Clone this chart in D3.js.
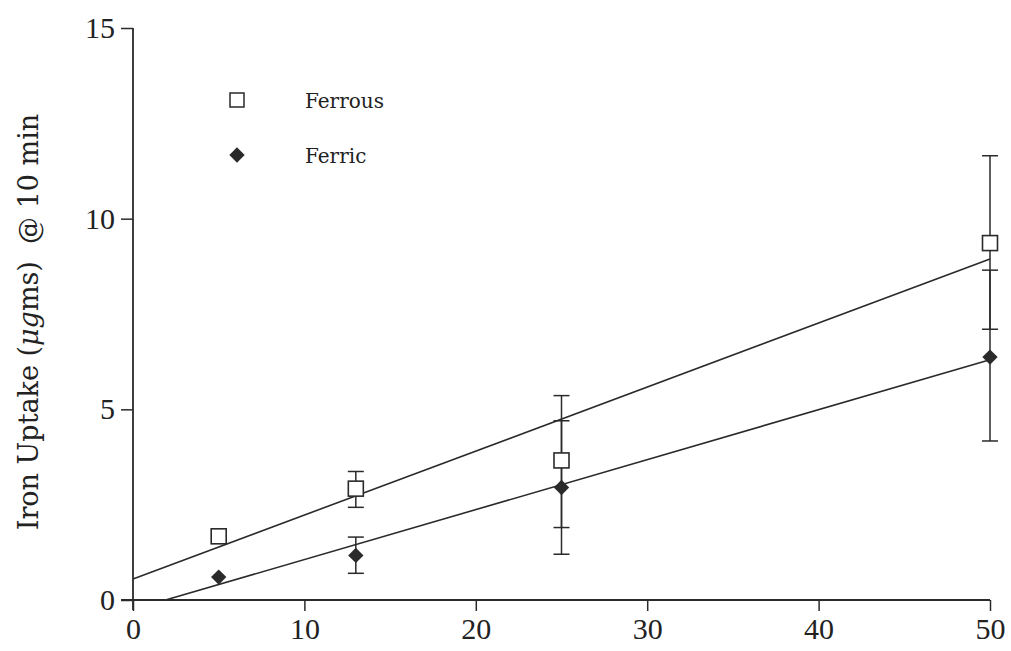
<!DOCTYPE html>
<html>
<head>
<meta charset="utf-8">
<script src="https://cdn.jsdelivr.net/npm/d3@7"></script>
<style>
  body { margin: 0; background: #fff; }
  svg text { font-family: "Liberation Serif", "DejaVu Serif", serif; fill: #222; }
</style>
</head>
<body>
<div id="chart"></div>
<script>
// Data (concentration vs. uptake)
const ferrousX = [5, 13, 25, 50];
const ferrousY = [1.67, 2.92, 3.66, 9.36];
const ferrousErr = [null, [2.43, 3.37], [1.9, 5.36], [7.1, 11.65]];

const ferricX = [5, 13, 25, 50];
const ferricY = [0.6, 1.17, 2.95, 6.37];
const ferricErr = [null, [0.7, 1.65], [1.2, 4.7], [4.17, 8.65]];

// fitted lines, end points
const ferrousFitX = [0, 50];
const ferrousFitY = [0.55, 8.94];
const ferricFitX = [1.9, 50];
const ferricFitY = [0, 6.3];

const xTicks = [0, 10, 20, 30, 40, 50];
const yTicks = [0, 5, 10, 15];

const W = 1011, H = 651;
const ink = "#2a2a2a";

const x = d3.scaleLinear().domain([0, 50]).range([133, 990]);
const y = d3.scaleLinear().domain([0, 15]).range([600, 28]);

const svg = d3.select("#chart").append("svg")
    .attr("width", W)
    .attr("height", H);

svg.append("rect").attr("width", W).attr("height", H).attr("fill", "#fff");

// x axis
const gx = svg.append("g")
    .attr("transform", `translate(0,${y(0)})`)
    .call(d3.axisBottom(x).tickValues(xTicks).tickSize(11).tickSizeOuter(0).tickPadding(7));
gx.select(".domain").remove();
gx.selectAll("line").attr("stroke", ink).attr("stroke-width", 1.5);
gx.selectAll("text").attr("font-size", 30).style("font-family", "Liberation Serif");

// y axis
const gy = svg.append("g")
    .attr("transform", `translate(${x(0)},0)`)
    .call(d3.axisLeft(y).tickValues(yTicks).tickSize(12).tickSizeOuter(0).tickPadding(6));
gy.select(".domain").remove();
gy.selectAll("line").attr("stroke", ink).attr("stroke-width", 1.5);
gy.selectAll("text").attr("font-size", 30).style("font-family", "Liberation Serif");

// axis lines
svg.append("line")
    .attr("x1", x(0) - 12).attr("x2", x(50))
    .attr("y1", y(0)).attr("y2", y(0))
    .attr("stroke", ink).attr("stroke-width", 1.8);
svg.append("line")
    .attr("x1", x(0)).attr("x2", x(0))
    .attr("y1", y(15)).attr("y2", y(0) + 10)
    .attr("stroke", ink).attr("stroke-width", 1.8);

// y label
svg.append("text")
    .attr("transform", `translate(38,322) rotate(-90)`)
    .attr("text-anchor", "middle")
    .attr("font-size", 27)
    .style("font-family", "DejaVu Serif")
    .attr("xml:space", "preserve")
    .call(t => {
        t.append("tspan").text("Iron Uptake (");
        t.append("tspan").attr("font-style", "italic").text("μg");
        t.append("tspan").text("ms)  @ 10 min");
    });

// fit lines
const line = d3.line().x(d => x(d[0])).y(d => y(d[1]));
svg.append("path")
    .datum(d3.zip(ferrousFitX, ferrousFitY))
    .attr("d", line).attr("fill", "none").attr("stroke", ink).attr("stroke-width", 1.6);
svg.append("path")
    .datum(d3.zip(ferricFitX, ferricFitY))
    .attr("d", line).attr("fill", "none").attr("stroke", ink).attr("stroke-width", 1.6);

// error bars
function errorBars(xs, errs) {
    const g = svg.append("g").attr("stroke", ink).attr("stroke-width", 1.5);
    xs.forEach((xv, i) => {
        const e = errs[i];
        if (!e) return;
        const cx = x(xv);
        g.append("line").attr("x1", cx).attr("x2", cx).attr("y1", y(e[0])).attr("y2", y(e[1]));
        e.forEach(v => {
            g.append("line").attr("x1", cx - 8).attr("x2", cx + 8).attr("y1", y(v)).attr("y2", y(v));
        });
    });
}
errorBars(ferrousX, ferrousErr);
errorBars(ferricX, ferricErr);

// markers
const sq = 15;
svg.append("g").selectAll("rect")
    .data(d3.zip(ferrousX, ferrousY))
    .join("rect")
    .attr("x", d => x(d[0]) - sq / 2)
    .attr("y", d => y(d[1]) - sq / 2)
    .attr("width", sq).attr("height", sq)
    .attr("fill", "#fff").attr("stroke", ink).attr("stroke-width", 1.6);

const diamond = d3.symbol().type(d3.symbolDiamond2).size(150);
svg.append("g").selectAll("path")
    .data(d3.zip(ferricX, ferricY))
    .join("path")
    .attr("transform", d => `translate(${x(d[0])},${y(d[1])})`)
    .attr("d", diamond)
    .attr("fill", ink);

// legend
const legend = svg.append("g").attr("transform", "translate(237,100)");
legend.append("rect")
    .attr("x", -7).attr("y", -7).attr("width", 14).attr("height", 14)
    .attr("fill", "#fff").attr("stroke", ink).attr("stroke-width", 1.5);
legend.append("text").attr("x", 68).attr("y", 8).attr("font-size", 20)
    .style("font-family", "DejaVu Serif").text("Ferrous");
legend.append("path")
    .attr("transform", "translate(0,55)")
    .attr("d", diamond)
    .attr("fill", ink);
legend.append("text").attr("x", 68).attr("y", 63).attr("font-size", 20)
    .style("font-family", "DejaVu Serif").text("Ferric");
</script>
</body>
</html>
